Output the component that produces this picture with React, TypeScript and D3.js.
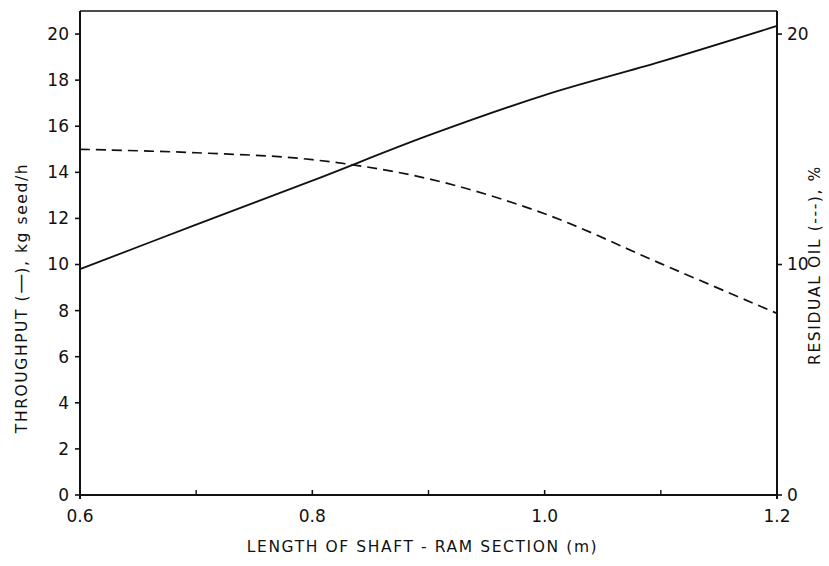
import { useMemo } from 'react';
import * as d3 from 'd3';

// shaft length (m) vs throughput (kg seed/h) and residual oil (%)
const lengths = [0.6, 0.7, 0.8, 0.9, 1.0, 1.1, 1.2];
const throughput = [9.8, 11.73, 13.64, 15.6, 17.35, 18.8, 20.35];
const residualOil = [15.0, 14.85, 14.55, 13.72, 12.2, 10.04, 7.88];

const xTicks = [0.6, 0.8, 1.0, 1.2];
const xMinorTicks = [0.7, 0.9, 1.1];
const leftTicks = [0, 2, 4, 6, 8, 10, 12, 14, 16, 18, 20];
const rightTicks = [0, 10, 20];

const W = 829;
const H = 566;
const M = { left: 80, right: 52, top: 11, bottom: 71 };
const FONT = '"DejaVu Sans", "Liberation Sans", sans-serif';

export default function App() {
	const x = useMemo(() => d3.scaleLinear().domain([0.6, 1.2]).range([M.left, W - M.right]), []);
	const yL = useMemo(() => d3.scaleLinear().domain([0, 21]).range([H - M.bottom, M.top]), []);
	const yR = useMemo(() => d3.scaleLinear().domain([0, 21]).range([H - M.bottom, M.top]), []);

	const solid = d3
		.line<number>()
		.x((_, i) => x(lengths[i]))
		.y((d) => yL(d))
		.curve(d3.curveCatmullRom.alpha(0.5));
	const dashed = d3
		.line<number>()
		.x((_, i) => x(lengths[i]))
		.y((d) => yR(d))
		.curve(d3.curveCatmullRom.alpha(0.5));

	const x0 = x(0.6);
	const x1 = x(1.2);
	const y0 = yL(0);
	const yTop = M.top;

	return (
		<svg width={W} height={H} style={{ position: 'absolute', left: 0, top: 0, background: '#fff' }}>
			{/* frame */}
			<g stroke="#111" strokeWidth={2} fill="none">
				<line x1={x0} y1={yTop} x2={x0} y2={y0 + 4} />
				<line x1={x1} y1={yTop} x2={x1} y2={y0 + 4} />
				<line x1={x0} y1={y0} x2={x1} y2={y0} />
				<line x1={x0} y1={yTop} x2={x1} y2={yTop} strokeWidth={1.6} />
			</g>

			{/* left axis */}
			{leftTicks.map((t) => (
				<g key={`l${t}`}>
					<line x1={x0 - 5} x2={x0} y1={yL(t)} y2={yL(t)} stroke="#111" strokeWidth={1.6} />
					<text x={x0 - 11} y={yL(t)} dy="0.35em" textAnchor="end" fontFamily={FONT} fontSize={17} fill="#111">
						{t}
					</text>
				</g>
			))}

			{/* right axis */}
			{rightTicks.map((t) => (
				<g key={`r${t}`}>
					<line x1={x1} x2={x1 + 5} y1={yR(t)} y2={yR(t)} stroke="#111" strokeWidth={1.6} />
					<text x={x1 + 10} y={yR(t)} dy="0.35em" textAnchor="start" fontFamily={FONT} fontSize={17} fill="#111">
						{t}
					</text>
				</g>
			))}

			{/* bottom axis */}
			{xTicks.map((t) => (
				<g key={`x${t}`}>
					<line x1={x(t)} x2={x(t)} y1={y0 - 5} y2={y0} stroke="#111" strokeWidth={1.6} />
					<text x={x(t)} y={y0 + 21} dy="0.35em" textAnchor="middle" fontFamily={FONT} fontSize={17} fill="#111">
						{d3.format('.1f')(t)}
					</text>
				</g>
			))}
			{xMinorTicks.map((t) => (
				<line key={`m${t}`} x1={x(t)} x2={x(t)} y1={y0 - 5} y2={y0} stroke="#111" strokeWidth={1.4} />
			))}

			{/* series */}
			<path d={solid(throughput) ?? ''} fill="none" stroke="#111" strokeWidth={1.8} />
			<path d={dashed(residualOil) ?? ''} fill="none" stroke="#111" strokeWidth={1.7} strokeDasharray="10,6" />

			{/* titles */}
			<text
				x={(x0 + x1) / 2 - 6}
				y={552}
				textAnchor="middle"
				fontFamily={FONT}
				fontSize={15.5}
				letterSpacing={1.6}
				fill="#111"
			>
				LENGTH OF SHAFT - RAM SECTION (m)
			</text>
			<text
				transform={`translate(27,${298}) rotate(-90)`}
				textAnchor="middle"
				fontFamily={FONT}
				fontSize={15.5}
				letterSpacing={1.6}
				fill="#111"
			>
				THROUGHPUT (<tspan letterSpacing={0} fontSize={20}>—</tspan>), kg seed/h
			</text>
			<text
				transform={`translate(820,${265}) rotate(-90)`}
				textAnchor="middle"
				fontFamily={FONT}
				fontSize={15.5}
				letterSpacing={1.6}
				fill="#111"
			>
				RESIDUAL OIL (---), %
			</text>
		</svg>
	);
}
